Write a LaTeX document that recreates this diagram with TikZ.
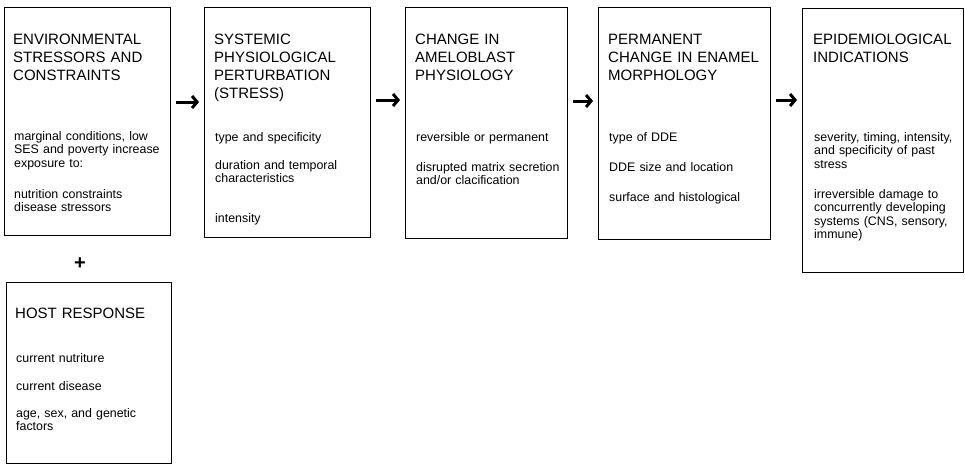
\documentclass[tikz,border=0pt]{standalone}
\usepackage{fontspec}
\setmainfont{Liberation Sans}
\usetikzlibrary{positioning,arrows.meta}

\tikzset{
	stage/.style={draw, line width=1.1pt, anchor=north west, inner sep=0pt},
	head/.style={anchor=base west, text width=165pt, align=left, inner sep=0pt, font=\fontsize{15}{18.3}\selectfont},
	note/.style={anchor=base west, text width=150pt, align=left, inner sep=0pt, font=\fontsize{12.4}{13.6}\selectfont},
	flow/.style={-{Straight Barb[length=5pt, width=12pt]}, line width=3pt, shorten <=5pt, shorten >=5pt}
}

\begin{document}
\begin{tikzpicture}[x=1pt, y=-1pt]
	\useasboundingbox (0,0) rectangle (965,466);

	\node[stage, minimum width=166pt, minimum height=228pt] (env) at (4,7) {};
	\node[stage, minimum width=166pt, minimum height=230pt] (sys) at (204,7) {};
	\node[stage, minimum width=162pt, minimum height=231pt] (amel) at (405,7) {};
	\node[stage, minimum width=172pt, minimum height=232pt] (enam) at (598,7) {};
	\node[stage, minimum width=161pt, minimum height=264pt] (epid) at (802,8) {};
	\node[stage, minimum width=165pt, minimum height=181pt] (host) at (6,282) {};

	\node[head] (envhead) at (13,44) {ENVIRONMENTAL\\STRESSORS AND\\CONSTRAINTS};
	\node[note] (envnote1) at (14,140) {marginal conditions, low\\SES and poverty increase\\exposure to:};
	\node[note] (envnote2) at (14,198) {nutrition constraints\\disease stressors};

	\node[head] (syshead) at (214,44) {SYSTEMIC\\PHYSIOLOGICAL\\PERTURBATION\\(STRESS)};
	\node[note] (sysnote1) at (215,141) {type and specificity};
	\node[note] (sysnote2) at (215,169) {duration and temporal\\characteristics};
	\node[note] (sysnote3) at (215,222) {intensity};

	\node[head] (amelhead) at (415,44) {CHANGE IN\\AMELOBLAST\\PHYSIOLOGY};
	\node[note] (amelnote1) at (416,141) {reversible or permanent};
	\node[note] (amelnote2) at (416,171) {disrupted matrix secretion\\and/or clacification};

	\node[head] (enamhead) at (608,44) {PERMANENT\\CHANGE IN ENAMEL\\MORPHOLOGY};
	\node[note] (enamnote1) at (609,141) {type of DDE};
	\node[note] (enamnote2) at (609,171) {DDE size and location};
	\node[note] (enamnote3) at (609,201) {surface and histological};

	\node[head] (epidhead) at (813,44) {EPIDEMIOLOGICAL\\INDICATIONS};
	\node[note] (epidnote1) at (814,141) {severity, timing, intensity,\\and specificity of past\\stress};
	\node[note] (epidnote2) at (814,198) {irreversible damage to\\concurrently developing\\systems (CNS, sensory,\\immune)};

	\node[head] (hosthead) at (15,318) {HOST RESPONSE};
	\node[note] (hostnote1) at (16,362) {current nutriture};
	\node[note] (hostnote2) at (16,390) {current disease};
	\node[note] (hostnote3) at (16,417) {age, sex, and genetic\\factors};

	\node[font=\fontsize{20}{20}\selectfont\bfseries] (plus) at (80,264) {+};

	\draw[flow] ([yshift=-95pt]env.north east) -- ([yshift=-95pt]sys.north west);
	\draw[flow] ([yshift=-93pt]sys.north east) -- ([yshift=-93pt]amel.north west);
	\draw[flow] ([yshift=-94pt]amel.north east) -- ([yshift=-94pt]enam.north west);
	\draw[flow] ([yshift=-93pt]enam.north east) -- ([yshift=-92pt]epid.north west);
\end{tikzpicture}
\end{document}
